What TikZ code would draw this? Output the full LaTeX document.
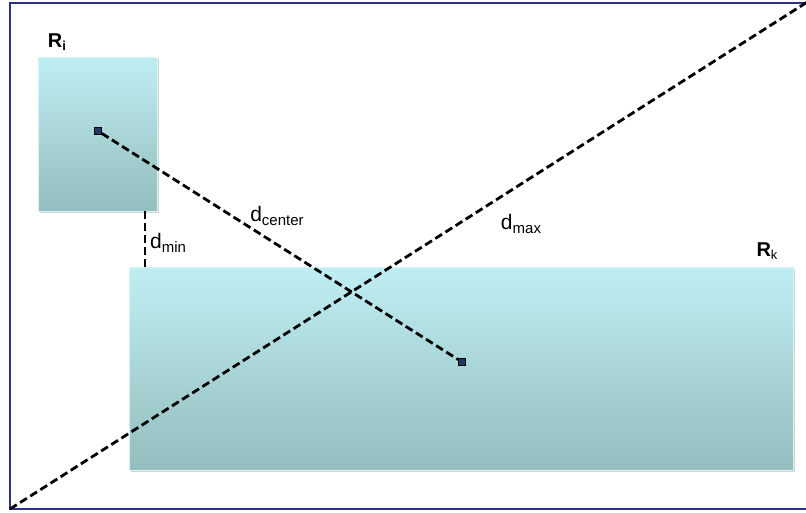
\documentclass[tikz,border=0pt]{standalone}
\usepackage{fontspec}
\setmainfont{Liberation Sans}
\usetikzlibrary{shadows}
\definecolor{framecol}{HTML}{2E3182}
\definecolor{boxtop}{HTML}{BFEEF2}
\definecolor{boxbot}{HTML}{94BDBE}
\definecolor{dotcol}{HTML}{1F3864}
\newcommand{\lsub}[1]{\raisebox{-0.35ex}{\fontsize{15}{16}\selectfont #1}}
\tikzset{
  region/.style={rectangle, inner sep=0pt, top color=boxtop, bottom color=boxbot,
    draw=boxtop!60!white, line width=0.8pt,
    drop shadow={shadow xshift=1.5pt, shadow yshift=-1.5pt, opacity=0.35}},
  centre/.style={rectangle, draw=black, fill=dotcol, inner sep=0pt, minimum size=7pt, line width=0.6pt},
  dist/.style={dashed, dash pattern=on 8pt off 4pt, line width=2.8pt},
  lbl/.style={font=\fontsize{21}{23}\selectfont, inner sep=0pt},
  rlbl/.style={font=\fontsize{20}{22}\selectfont\bfseries, inner sep=0pt}
}
\begin{document}
\begin{tikzpicture}[x=1pt,y=-1pt]
\useasboundingbox (0,0) rectangle (806,512);
\fill[white] (0,0) rectangle (806,512);
\draw[framecol, line width=2pt] (812,3) -- (10,3) -- (10,509) -- (812,509);

\node[region, minimum width=119pt, minimum height=154pt] (ri) at (97.5,134) {};
\node[region, minimum width=664pt, minimum height=203pt] (rk) at (461,368.5) {};

\node[centre] (ci) at (98,131) {};
\node[centre] (ck) at (462,362) {};

\coordinate (dlo) at (10,509);
\coordinate (dhi) at (812,-1);
\coordinate (mtop) at (145,211);
\coordinate (mbot) at (145,267);

\draw[dist] (ci)--(ck);
\draw[dist] (dlo)--(dhi);
\draw[dist] (mtop)--(mbot);

\node[rlbl] (lri) at (57,42) {R{\fontsize{13}{14}\selectfont\raisebox{-0.4ex}{i}}};
\node[rlbl] (lrk) at (767,251) {R{\fontsize{13}{14}\mdseries\selectfont\raisebox{-0.4ex}{k}}};
\node[lbl] (lmin) at (168,243) {d\lsub{min}};
\node[lbl] (lcen) at (277,216) {d\lsub{center}};
\node[lbl] (lmax) at (521,224) {d\lsub{max}};
\end{tikzpicture}
\end{document}
